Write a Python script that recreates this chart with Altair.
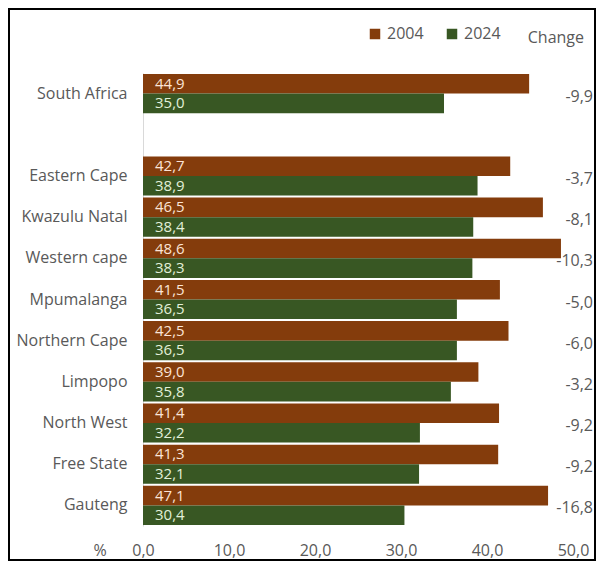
import altair as alt
import pandas as pd

regions = ["South Africa", "Eastern Cape", "Kwazulu Natal", "Western cape", "Mpumalanga",
           "Northern Cape", "Limpopo", "North West", "Free State", "Gauteng"]
v2004 = [44.9, 42.7, 46.5, 48.6, 41.5, 42.5, 39.0, 41.4, 41.3, 47.1]
v2024 = [35.0, 38.9, 38.4, 38.3, 36.5, 36.5, 35.8, 32.2, 32.1, 30.4]
change = [-9.9, -3.7, -8.1, -10.3, -5.0, -6.0, -3.2, -9.2, -9.2, -16.8]
years = ["2004", "2024"]
x_ticks = [0, 10, 20, 30, 40, 50]

order = [regions[0], " "] + regions[1:]

def fmt(v):
    return f"{v:.1f}".replace(".", ",")

rows = []
for r, a, b in zip(regions, v2004, v2024):
    rows.append({"region": r, "year": years[0], "value": a, "label": fmt(a)})
    rows.append({"region": r, "year": years[1], "value": b, "label": fmt(b)})
df = pd.DataFrame(rows)
chg = pd.DataFrame({"region": regions, "change": change, "label": [fmt(c) for c in change]})
one = pd.DataFrame({"a": [0]})

FONT = "Open Sans"
GRAY = "#595959"
BROWN = "#843C0C"
GREEN = "#385723"
FS = 16

yscale = alt.Scale(domain=order, paddingInner=0.05, paddingOuter=0.025)
xscale = alt.Scale(domain=[0, 50], nice=False)

bars = alt.Chart(df).mark_bar().encode(
    x=alt.X("value:Q", scale=xscale,
            axis=alt.Axis(values=x_ticks, labelExpr="replace(format(datum.value, '.1f'), '.', ',')",
                          grid=False, ticks=False, domain=False, title=None, labelFlush=False,
                          labelFont=FONT, labelFontSize=FS, labelColor=GRAY, labelPadding=16)),
    y=alt.Y("region:N", scale=yscale, sort=order,
            axis=alt.Axis(title=None, ticks=False, domain=True, domainColor="#D9D9D9",
                          labelFont=FONT, labelFontSize=FS, labelColor=GRAY, labelPadding=16)),
    yOffset=alt.YOffset("year:N", sort=years),
    color=alt.Color("year:N", sort=years, scale=alt.Scale(domain=years, range=[BROWN, GREEN]),
                    legend=alt.Legend(orient="none", legendX=224, legendY=-47, direction="horizontal",
                                      title=None, symbolType="square", symbolSize=110,
                                      symbolStrokeWidth=0, labelFont=FONT, labelFontSize=FS,
                                      labelColor=GRAY, columnPadding=20, labelOffset=4)),
)

vals = alt.Chart(df).mark_text(align="left", baseline="middle", dx=12, font=FONT, fontSize=15).encode(
    x=alt.X("zero:Q", scale=xscale),
    y=alt.Y("region:N", scale=yscale, sort=order),
    yOffset=alt.YOffset("year:N", sort=years),
    text="label:N",
    color=alt.condition(alt.datum.year == "2004", alt.value("#FCE4D6"), alt.value("#E2F0D9")),
).transform_calculate(zero="0")

chg_text = alt.Chart(chg).mark_text(align="right", baseline="middle", dy=3, font=FONT,
                                    fontSize=FS, color=GRAY).encode(
    x=alt.value(450),
    y=alt.Y("region:N", scale=yscale, sort=order),
    text="label:N",
)

chg_head = alt.Chart(one).mark_text(align="right", baseline="middle", font=FONT, fontSize=FS,
                                    color=GRAY, text="Change").encode(
    x=alt.value(441), y=alt.value(-35))

pct = alt.Chart(one).mark_text(align="center", baseline="middle", font=FONT, fontSize=FS,
                               color=GRAY, text="%").encode(
    x=alt.value(-43), y=alt.value(478))

frame = alt.Chart(one).mark_rect(fillOpacity=0, stroke="black", strokeWidth=2).encode(
    x=alt.value(-134), x2=alt.value(452), y=alt.value(-64), y2=alt.value(487))

chart = alt.layer(bars, vals, chg_text, chg_head, pct, frame).properties(
    width=430, height=453, autosize="none",
    padding={"left": 135, "top": 65, "right": 23, "bottom": 36},
    background="white",
).configure_view(strokeWidth=0)

chart.save("out.html", embed_options={"renderer": "svg", "actions": False})
